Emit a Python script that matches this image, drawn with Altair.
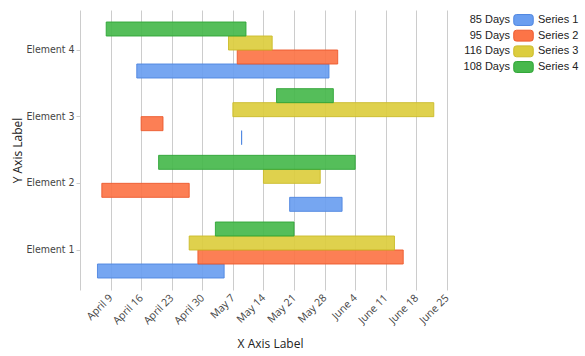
import altair as alt
import pandas as pd

elements = ["Element 1", "Element 2", "Element 3", "Element 4"]
series_names = ["Series 1", "Series 2", "Series 3", "Series 4"]

# start / end per series, aligned with elements
s1_start = ["2024-04-06", "2024-05-20", "2024-05-09", "2024-04-15"]
s1_end = ["2024-05-05", "2024-06-01", "2024-05-09", "2024-05-29"]
s2_start = ["2024-04-29", "2024-04-07", "2024-04-16", "2024-05-08"]
s2_end = ["2024-06-15", "2024-04-27", "2024-04-21", "2024-05-31"]
s3_start = ["2024-04-27", "2024-05-14", "2024-05-07", "2024-05-06"]
s3_end = ["2024-06-13", "2024-05-27", "2024-06-22", "2024-05-16"]
s4_start = ["2024-05-03", "2024-04-20", "2024-05-17", "2024-04-08"]
s4_end = ["2024-05-21", "2024-06-04", "2024-05-30", "2024-05-10"]

legend_days = ["85 Days", "95 Days", "116 Days", "108 Days"]

tick_dates = ["2024-04-09", "2024-04-16", "2024-04-23", "2024-04-30",
              "2024-05-07", "2024-05-14", "2024-05-21", "2024-05-28",
              "2024-06-04", "2024-06-11", "2024-06-18", "2024-06-25"]
x_domain = ["2024-04-02", "2024-06-28"]

fill_colors = ["#6a9ef0", "#fc7447", "#dccd3e", "#47b84c"]
stroke_colors = ["#4f86e0", "#ec5a2e", "#cbbb2a", "#2fa536"]

rows = []
for name, st, en in zip(series_names,
                        [s1_start, s2_start, s3_start, s4_start],
                        [s1_end, s2_end, s3_end, s4_end]):
    for el, a, b in zip(elements, st, en):
        rows.append({"Element": el, "Series": name, "start": a, "end": b})
df = pd.DataFrame(rows)

legend_df = pd.DataFrame({"Series": series_names, "Days": legend_days})


def dt(s):
    y, m, d = s.split("-")
    return alt.DateTime(year=int(y), month=int(m), date=int(d), utc=True)


fill_scale = alt.Scale(domain=series_names, range=fill_colors)
stroke_scale = alt.Scale(domain=series_names, range=stroke_colors)

bars = alt.Chart(df).mark_bar(fillOpacity=0.92, strokeWidth=1, strokeOpacity=0.9).encode(
    x=alt.X("start:T",
            scale=alt.Scale(type="utc", domain=[dt(d) for d in x_domain], nice=False),
            axis=alt.Axis(values=[dt(d) for d in tick_dates],
                          labelExpr="utcFormat(datum.value, '%B %-d')",
                          labelAngle=-45, labelAlign="right", labelBaseline="middle",
                          labelOverlap=False,
                          grid=True, gridColor="#cccccc",
                          domain=False, ticks=False, labelFont="Open Sans",
                          labelFontSize=10.5, labelColor="#444444", labelPadding=6,
                          title="X Axis Label", titleFont="Open Sans",
                          titleFontSize=12, titleFontWeight="normal",
                          titleColor="#222222", titlePadding=12)),
    x2="end:T",
    y=alt.Y("Element:N",
            sort=list(reversed(elements)),
            scale=alt.Scale(paddingInner=0.16, paddingOuter=0.18),
            axis=alt.Axis(title="Y Axis Label", titleFont="Open Sans",
                          titleFontSize=12, titleFontWeight="normal",
                          titleColor="#222222", titlePadding=1,
                          labelFont="DejaVu Sans Condensed", labelFontSize=10.5,
                          labelColor="#444444", domainColor="#cccccc",
                          tickColor="#cccccc", tickSize=4, labelPadding=2,
                          grid=False)),
    yOffset=alt.YOffset("Series:N", sort=list(reversed(series_names)),
                        scale=alt.Scale(paddingInner=0, paddingOuter=0)),
    fill=alt.Fill("Series:N", scale=fill_scale, legend=None),
    stroke=alt.Stroke("Series:N", scale=stroke_scale, legend=None),
)

leg_y = alt.Y("Series:N", sort=series_names,
              scale=alt.Scale(type="point", domain=series_names, range=[10, 57], padding=0),
              axis=None)

leg_days = alt.Chart(legend_df).mark_text(
    align="right", baseline="middle", font="Liberation Sans", fontSize=11, color="#222222"
).encode(x=alt.value(430), y=leg_y, text="Days:N")

leg_names = alt.Chart(legend_df).mark_text(
    align="left", baseline="middle", font="Liberation Sans", fontSize=11, color="#222222"
).encode(x=alt.value(458), y=leg_y, text="Series:N")

pill = ("M-0.72,-0.56 H0.72 Q1,-0.56 1,-0.28 V0.28 Q1,0.56 0.72,0.56 "
        "H-0.72 Q-1,0.56 -1,0.28 V-0.28 Q-1,-0.56 -0.72,-0.56 Z")
leg_sym = alt.Chart(legend_df).mark_point(
    shape=pill, filled=True, size=380, strokeWidth=1, opacity=1
).encode(
    x=alt.value(443.5), y=leg_y,
    fill=alt.Fill("Series:N", scale=fill_scale, legend=None),
    stroke=alt.Stroke("Series:N", scale=stroke_scale, legend=None),
)

legend = alt.layer(leg_days, leg_names, leg_sym)

chart = alt.layer(bars, legend).resolve_scale(y="independent").properties(
    width=380, height=280,
    autosize=alt.AutoSizeParams(type="none"),
    padding={"left": 80, "top": 10, "right": 125, "bottom": 66},
).configure(background="white").configure_view(stroke=None)

chart.save("out.html", embed_options={"renderer": "svg", "actions": False})
